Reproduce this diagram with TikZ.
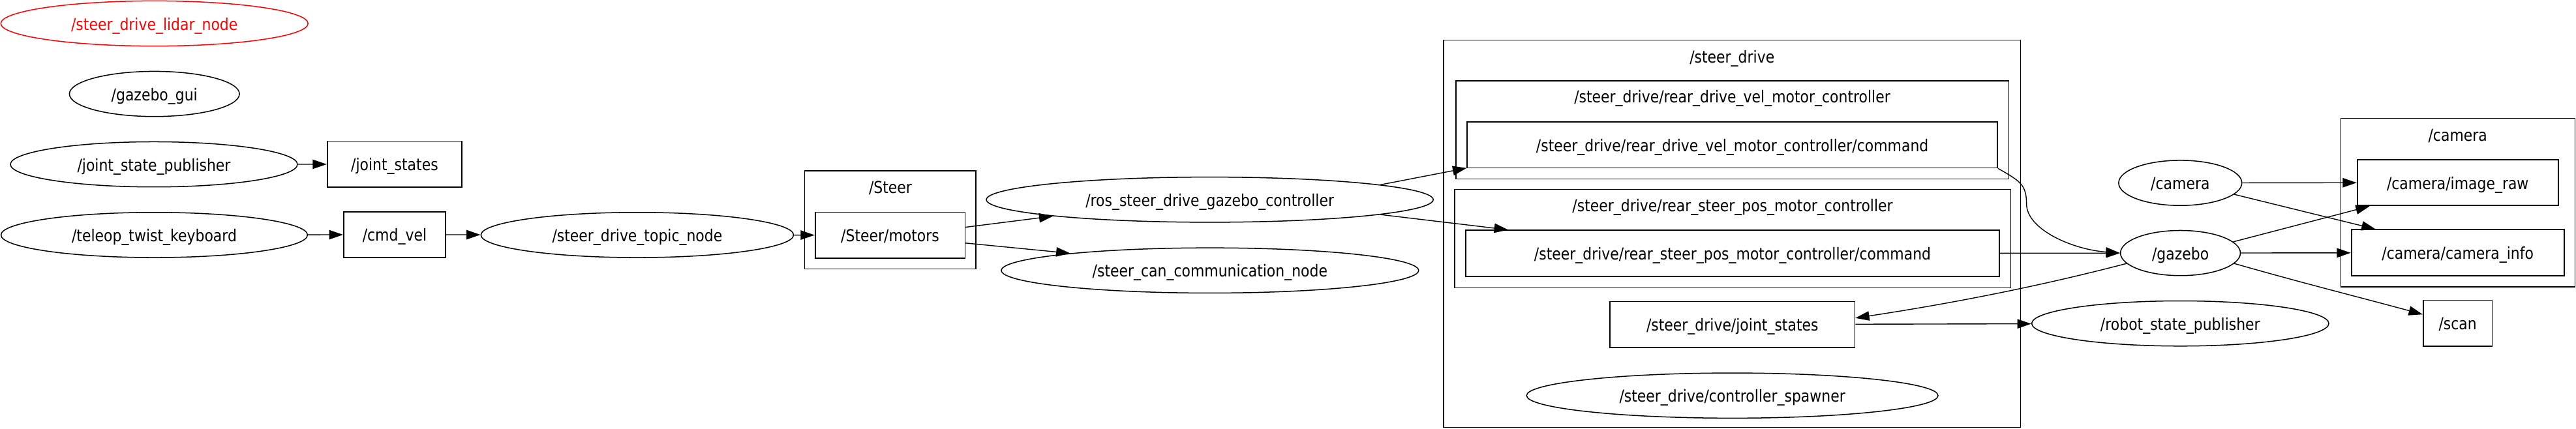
\documentclass[tikz,border=0pt]{standalone}
\usepackage{fontspec}
\setmainfont[FakeStretch=0.87]{DejaVu Sans}
\usetikzlibrary{shapes.geometric}
\usetikzlibrary{arrows.meta}
\tikzset{>={Triangle[length=8.5mm,width=5.7mm]}}

\begin{document}
\begin{tikzpicture}[x=1mm, y=-1mm, font=\fontsize{28.5pt}{34pt}\selectfont, rosnode/.style={ellipse, draw=black, line width=0.6mm, inner sep=0pt, minimum height=27.5mm, text height=8mm, text depth=0pt}, topic/.style={rectangle, draw=black, line width=0.7mm, inner sep=0pt, minimum height=28mm, text height=8mm, text depth=0pt}, cluster/.style={draw=black, line width=0.5mm}, title/.style={inner sep=0pt, text height=8mm, text depth=0pt}, link/.style={->, line width=0.55mm}]

    \useasboundingbox (0,0) rectangle (1568,260.9);

    %Nodes
    \node[rosnode, draw=red, text=red, minimum width=187mm](lidar_node) at (94,14.3){/steer\_drive\_lidar\_node};
    \node[rosnode, minimum width=103.5mm](gazebo_gui) at (94,57.2){/gazebo\_gui};
    \node[rosnode, minimum width=174.7mm](joint_state_publisher) at (93.7,100.1){/joint\_state\_publisher};
    \node[topic, minimum width=82mm](joint_states) at (240.2,100){/joint\_states};
    \node[rosnode, minimum width=186.6mm](teleop) at (93.9,143.1){/teleop\_twist\_keyboard};
    \node[topic, minimum width=62mm](cmd_vel) at (240.2,142.9){/cmd\_vel};
    \node[rosnode, minimum width=190.3mm](topic_node) at (387.9,143.1){/steer\_drive\_topic\_node};

    %Steer group
    \draw[cluster] (489.9,104) rectangle (594,163.9);
    \node[title](steer_title) at (542,113.7){/Steer};
    \node[topic, minimum width=91.2mm](motors) at (541.8,143.2){/Steer/motors};

    \node[rosnode, minimum width=272mm](gazebo_controller) at (736.4,121.6){/ros\_steer\_drive\_gazebo\_controller};
    \node[rosnode, minimum width=254mm](can_node) at (736.5,164.7){/steer\_can\_communication\_node};

    %steer_drive group
    \draw[cluster] (878.7,24.5) rectangle (1229.9,260.3);
    \node[title](drive_title) at (1054.3,34.4){/steer\_drive};
    \draw[cluster] (886.2,49.2) rectangle (1222.6,109);
    \node[title](vel_title) at (1054.4,58.6){/steer\_drive/rear\_drive\_vel\_motor\_controller};
    \node[topic, minimum width=322.7mm](vel_command) at (1054.45,88.2){/steer\_drive/rear\_drive\_vel\_motor\_controller/command};
    \draw[cluster] (885.4,115.3) rectangle (1223.8,175.2);
    \node[title](pos_title) at (1054.6,125){/steer\_drive/rear\_steer\_pos\_motor\_controller};
    \node[topic, minimum width=325mm](pos_command) at (1054.6,154.3){/steer\_drive/rear\_steer\_pos\_motor\_controller/command};
    \node[topic, minimum width=149mm](drive_joint_states) at (1054.5,197.6){/steer\_drive/joint\_states};
    \node[rosnode, minimum width=250.5mm](spawner) at (1054.45,240.9){/steer\_drive/controller\_spawner};

    \node[rosnode, minimum width=75mm](camera) at (1327.1,111.4){/camera};
    \node[rosnode, minimum width=73mm](gazebo) at (1327.2,154.1){/gazebo};
    \node[rosnode, minimum width=180.8mm](robot_state_publisher) at (1327.1,197){/robot\_state\_publisher};

    %camera group
    \draw[cluster] (1424.7,72.2) rectangle (1567.3,174.7);
    \node[title](camera_title) at (1496,81.8){/camera};
    \node[topic, minimum width=122.3mm](image_raw) at (1496,111.2){/camera/image\_raw};
    \node[topic, minimum width=129.5mm](camera_info) at (1496,153.9){/camera/camera\_info};
    \node[topic, minimum width=42mm](scan) at (1496,196.8){/scan};

    %Lines
    \draw[link] (joint_state_publisher) -- (joint_states);
    \draw[link] (teleop) -- (cmd_vel);
    \draw[link] (cmd_vel) -- (topic_node);
    \draw[link] (topic_node) -- (motors);
    \draw[link] (motors.6.7) -- (gazebo_controller.186);
    \draw[link] (motors.-6.3) -- (can_node.173.8);
    \draw[link] (gazebo_controller.5.95) -- (vel_command.185.9);
    \draw[link] (gazebo_controller.-5.7) -- (pos_command.174.5);
    \draw[link] (vel_command.south east) .. controls (1229,110) and (1233.5,112) .. (1233.5,124) .. controls (1233.5,140) and (1262,152) .. (gazebo.west);
    \draw[link] (pos_command) -- (gazebo);
    \draw[link] (gazebo.191.7) .. controls (1235,176) and (1180,186) .. (drive_joint_states.3);
    \draw[link] (drive_joint_states) -- (robot_state_publisher);
    \draw[link] (camera) -- (image_raw);
    \draw[link] (camera.-12) -- (camera_info.164.6);
    \draw[link] (gazebo.12.6) -- (image_raw.195.3);
    \draw[link] (gazebo) -- (camera_info);
    \draw[link] (gazebo.-11.4) .. controls (1400,172) and (1440,182) .. (scan.166.9);

\end{tikzpicture}
\end{document}
